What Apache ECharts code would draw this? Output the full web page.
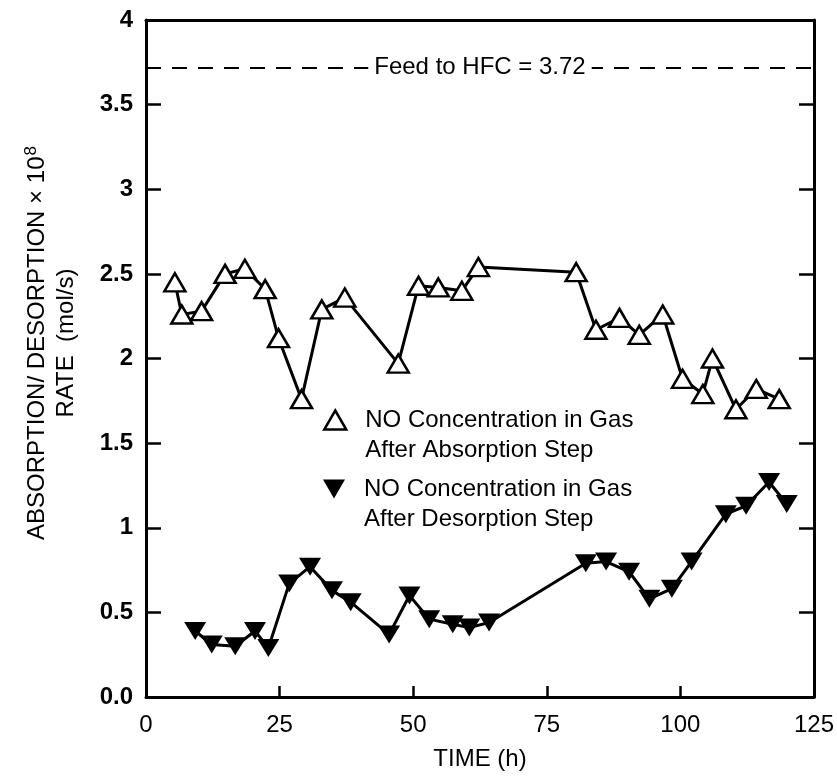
<!DOCTYPE html>
<html>
<head>
<meta charset="utf-8">
<script src="https://cdn.jsdelivr.net/npm/echarts@6/dist/echarts.min.js"></script>
<style>
  html, body { margin: 0; padding: 0; background: #fff; }
  #chart { width: 837px; height: 784px; }
</style>
</head>
<body>
<div id="chart"></div>
<script>
// Time on stream (h) and NO rate (x 1e8 mol/s) after each step
const absTime = [5.4, 6.7, 10.4, 14.8, 18.5, 22.3, 24.8, 29.1, 32.9, 37.2, 47.2, 51.0, 54.7, 59.1, 62.2,
                 80.5, 84.2, 88.6, 92.3, 96.7, 100.4, 104.2, 106.0, 110.4, 114.2, 118.5];
const absRate = [2.45, 2.26, 2.28, 2.50, 2.53, 2.41, 2.12, 1.76, 2.29, 2.36, 1.97, 2.43, 2.42, 2.40, 2.54,
                 2.51, 2.17, 2.24, 2.14, 2.26, 1.88, 1.79, 2.00, 1.70, 1.82, 1.76];

const desTime = [9.2, 12.3, 16.7, 20.4, 22.9, 26.8, 30.7, 34.8, 38.3, 45.5, 49.3, 53.0, 57.4, 60.5, 64.2,
                 82.3, 86.1, 90.4, 94.2, 98.4, 102.1, 108.5, 112.3, 116.6, 119.9];
const desRate = [0.39, 0.31, 0.30, 0.39, 0.29, 0.67, 0.77, 0.63, 0.56, 0.37, 0.60, 0.46, 0.43, 0.41, 0.44,
                 0.79, 0.80, 0.74, 0.58, 0.64, 0.80, 1.08, 1.13, 1.27, 1.14];

// Feed rate to the hollow-fibre contactor
const feedRate = 3.72;

// Axis ticks
const xTicks = [0, 25, 50, 75, 100, 125];
const yTicks = [0, 0.5, 1, 1.5, 2, 2.5, 3, 3.5, 4];
const yTickText = ['0.0', '0.5', '1', '1.5', '2', '2.5', '3', '3.5', '4'];

const absName = 'NO Concentration in Gas\nAfter Absorption Step';
const desName = 'NO Concentration in Gas\nAfter Desorption Step';

const FONT = 'Liberation Sans, Arial, Helvetica, sans-serif';
const INK = '#000';

function pairs(xs, ys) { return xs.map((x, i) => [x, ys[i]]); }

const chart = echarts.init(document.getElementById('chart'), null, { renderer: 'canvas' });

// Legend entries: the marker sits beside the first line of a two-line caption,
// so a blank leading line keeps the caption's first line centred on the marker.
function legendBlock(name, icon, itemStyle, top) {
  return {
    data: [{ name: name, icon: icon, itemStyle: itemStyle }],
    left: 323, top: top, padding: 0, orient: 'vertical',
    itemWidth: 50, itemHeight: 19, selectedMode: false,
    formatter: n => '\n' + n,
    textStyle: { fontFamily: FONT, fontSize: 24, color: INK, lineHeight: 30 }
  };
}

const option = {
  backgroundColor: '#fff',
  animation: false,
  grid: { left: 146, right: 23, top: 20, bottom: 87, containLabel: false },
  legend: [
    legendBlock(absName, 'path://M11,0L22,19L0,19Z',
                { color: '#fff', borderColor: INK, borderWidth: 2.5 }, 375),
    legendBlock(desName, 'path://M0,0L22,0L11,19Z',
                { color: INK, borderWidth: 0 }, 444)
  ],
  xAxis: [
    {
      type: 'value', min: xTicks[0], max: xTicks[xTicks.length - 1], interval: 25,
      position: 'bottom',
      name: 'TIME (h)', nameLocation: 'middle', nameGap: 50,
      nameTextStyle: { fontFamily: FONT, fontSize: 24, color: INK },
      axisLine: { show: true, onZero: false, lineStyle: { color: INK, width: 3 } },
      axisTick: { show: true, inside: true, length: 11, lineStyle: { color: INK, width: 2.5 } },
      axisLabel: { show: true, margin: 16, fontFamily: FONT, fontSize: 24, color: INK },
      splitLine: { show: false }
    },
    {
      type: 'value', min: xTicks[0], max: xTicks[xTicks.length - 1], interval: 25,
      position: 'top',
      axisLine: { show: true, onZero: false, lineStyle: { color: INK, width: 3 } },
      axisTick: { show: false }, axisLabel: { show: false }, splitLine: { show: false }
    }
  ],
  yAxis: [
    {
      type: 'value', min: yTicks[0], max: yTicks[yTicks.length - 1], interval: 0.5,
      position: 'left',
      axisLine: { show: true, onZero: false, lineStyle: { color: INK, width: 3 } },
      axisTick: { show: true, inside: true, length: 15, lineStyle: { color: INK, width: 2.5 } },
      axisLabel: {
        show: true, margin: 13, fontFamily: FONT, fontSize: 24, fontWeight: 'bold', color: INK,
        formatter: v => yTickText[yTicks.indexOf(v)]
      },
      splitLine: { show: false }
    },
    {
      type: 'value', min: yTicks[0], max: yTicks[yTicks.length - 1], interval: 0.5,
      position: 'right',
      axisLine: { show: true, onZero: false, lineStyle: { color: INK, width: 3 } },
      axisTick: { show: true, inside: true, length: 15, lineStyle: { color: INK, width: 2.5 } },
      axisLabel: { show: false }, splitLine: { show: false }
    }
  ],
  graphic: [
    {
      type: 'text', x: 52, y: 343, rotation: Math.PI / 2,
      style: {
        text: '{t|ABSORPTION/ DESORPTION × 10}{sup|8}\n{t|RATE  (mol/s)}',
        align: 'center', verticalAlign: 'middle',
        fontFamily: FONT, fill: INK,
        rich: {
          t: { fontFamily: FONT, fontSize: 24, lineHeight: 29, color: INK },
          sup: { fontFamily: FONT, fontSize: 17, lineHeight: 29, color: INK,
                 verticalAlign: 'top', padding: [0, 0, 12, 1] }
        }
      }
    }
  ],
  series: [
    {
      name: absName, type: 'line', xAxisIndex: 0, yAxisIndex: 0,
      data: pairs(absTime, absRate),
      symbol: 'triangle', symbolSize: [21, 18],
      lineStyle: { color: INK, width: 3 },
      itemStyle: { color: '#fff', borderColor: INK, borderWidth: 2.5 },
      z: 3,
      markLine: {
        silent: true, symbol: 'none',
        lineStyle: { color: INK, width: 2, type: [15, 11] },
        label: {
          show: true, position: 'middle', distance: 0,
          verticalAlign: 'middle',
          formatter: 'Feed to HFC = ' + feedRate.toFixed(2),
          fontFamily: FONT, fontSize: 24, color: INK,
          backgroundColor: '#fff', padding: [2, 6, 2, 6]
        },
        data: [{ yAxis: feedRate }]
      }
    },
    {
      name: desName, type: 'line', xAxisIndex: 0, yAxisIndex: 0,
      data: pairs(desTime, desRate),
      symbol: 'triangle', symbolRotate: 180, symbolSize: [22, 18],
      lineStyle: { color: INK, width: 3 },
      itemStyle: { color: INK, borderWidth: 0 },
      z: 3
    }
  ]
};

chart.setOption(option);
</script>
</body>
</html>
